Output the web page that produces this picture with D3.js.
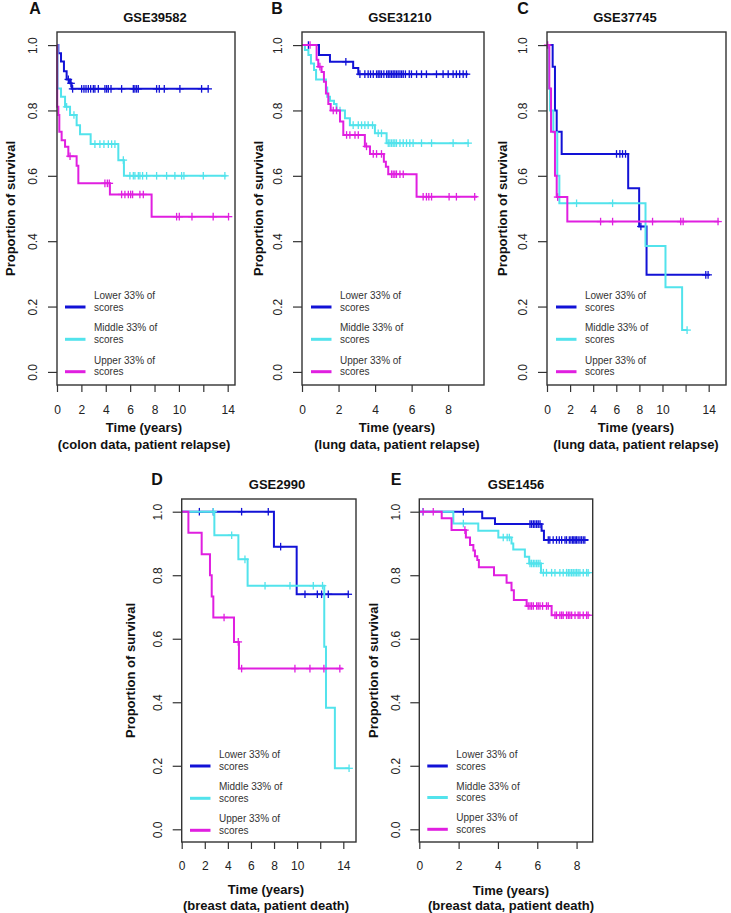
<!DOCTYPE html>
<html><head><meta charset="utf-8">
<script src="https://cdn.jsdelivr.net/npm/d3@7"></script>
<style>body{margin:0;background:#fff}svg{display:block}text{font-family:"Liberation Sans",Arial,Helvetica,sans-serif}</style>
</head><body><svg id="c" width="731" height="913"></svg>
<script>
// ---------------- DATA ----------------
const panelLetters = ["A","B","C","D","E"];
const panelTitles = ["GSE39582","GSE31210","GSE37745","GSE2990","GSE1456"];
const xTitle = "Time (years)";
const xSubtitles = ["(colon data, patient relapse)","(lung data, patient relapse)","(lung data, patient relapse)","(breast data, patient death)","(breast data, patient death)"];
const yTitle = "Proportion of survival";
const groupLine1 = ["Lower 33% of","Middle 33% of","Upper 33% of"];
const groupLine2 = ["scores","scores","scores"];
const groupColors = ["#1212d6","#52e3ec","#e01fe0"];
const yTicks = [0,0.2,0.4,0.6,0.8,1.0];
const xTicksA = [0,2,4,6,8,10,12,14], xLabelsA = ["0","2","4","6","8","10","","14"];
const xTicksB = [0,2,4,6,8], xLabelsB = ["0","2","4","6","8"];
const xTicksC = [0,2,4,6,8,10,12,14], xLabelsC = ["0","2","4","6","8","10","","14"];
const xTicksD = [0,2,4,6,8,10,12,14], xLabelsD = ["0","2","4","6","8","10","","14"];
const xTicksE = [0,2,4,6,8], xLabelsE = ["0","2","4","6","8"];

// step curves: [time of drop, new survival]; censor times; end time
const A_low  = [[0.11,0.975],[0.33,0.95],[0.57,0.92],[0.79,0.895],[1.07,0.883],[1.2,0.866]];
const A_lowC = [0.93,1.15,1.28,2.02,2.21,2.38,2.57,2.76,2.98,3.11,3.39,3.93,4.07,4.21,4.43,5.3,6.26,6.39,6.53,6.67,8.17,8.39,8.8,10.08,11.86,12.4];
const A_lowEnd = 12.4;
const A_mid  = [[0.05,0.867],[0.33,0.842],[0.66,0.811],[1.07,0.786],[1.61,0.755],[1.89,0.727],[2.76,0.697],[5.03,0.648],[5.49,0.600]];
const A_midC = [0.79,1.39,3.11,3.52,3.85,4.21,4.48,4.75,5.44,5.98,6.26,6.39,6.67,6.8,7.02,7.35,8.17,8.99,9.67,10.22,10.41,12.0,13.77];
const A_midEnd = 13.9;
const A_up   = [[0.02,0.811],[0.11,0.786],[0.19,0.735],[0.38,0.709],[0.66,0.689],[0.93,0.66],[1.61,0.631],[1.75,0.577],[4.34,0.543],[7.76,0.475]];
const A_upC  = [1.07,3.93,4.13,4.29,5.3,5.57,5.85,6.04,6.2,6.8,7.08,9.81,10.03,11.07,12.81,14.07];
const A_upEnd = 14.1;

const B_low  = [[0.93,0.97],[1.53,0.949],[2.8,0.93],[3.08,0.911]];
const B_lowC = [0.35,2.4,3.17,3.44,3.62,3.75,3.9,4.08,4.17,4.26,4.35,4.48,4.63,4.72,4.81,4.9,4.99,5.08,5.17,5.26,5.36,5.45,5.54,5.66,5.87,5.99,6.27,6.54,6.81,7.36,7.72,8.0,8.27,8.45,8.63,8.82,9.0];
const B_lowEnd = 9.09;
const B_mid  = [[0.16,0.985],[0.35,0.97],[0.49,0.944],[0.66,0.924],[0.77,0.895],[1.31,0.87],[1.38,0.842],[1.53,0.83],[1.75,0.82],[1.89,0.80],[2.35,0.776],[2.62,0.755],[3.99,0.73],[4.63,0.70]];
const B_midC = [2.08,2.8,3.08,3.26,3.44,3.62,3.86,4.17,4.35,4.72,4.81,4.9,4.99,5.08,5.17,5.36,5.54,5.72,5.9,6.08,6.54,7.09,8.27,9.09];
const B_midEnd = 9.14;
const B_up   = [[0.8,0.955],[0.89,0.934],[1.07,0.918],[1.2,0.888],[1.31,0.852],[1.44,0.82],[1.57,0.80],[2.08,0.766],[2.26,0.725],[3.44,0.69],[3.72,0.667],[4.48,0.643],[4.59,0.628],[4.72,0.605],[6.27,0.536]];
const B_upC  = [0.44,0.98,1.71,1.89,2.44,2.62,2.9,3.08,3.53,3.9,4.08,4.35,4.9,4.99,5.08,5.17,5.36,5.54,6.63,6.81,6.94,7.09,8.05,8.45,9.45];
const B_upEnd = 9.58;

const C_low  = [[0.49,0.934],[0.69,0.8],[0.84,0.735],[1.27,0.667],[7.03,0.562],[7.98,0.445],[8.62,0.297]];
const C_lowC = [6.02,6.31,6.54,6.8,8.13,13.75,13.95];
const C_lowEnd = 14.09;
const C_mid  = [[0.17,0.867],[0.26,0.8],[0.55,0.733],[0.89,0.6],[1.07,0.516],[8.53,0.385],[10.26,0.259],[11.7,0.128]];
const C_midC = [2.56,5.68,12.13];
const C_midEnd = 12.13;
const C_up   = [[0.2,0.867],[0.35,0.735],[0.69,0.6],[0.84,0.535],[1.76,0.46]];
const C_upC  = [0.06,0.92,4.64,5.68,9.14,11.58,11.79,14.81];
const C_upEnd = 14.9;

const D_low  = [[7.99,0.89],[9.96,0.74]];
const D_lowC = [1.53,2.74,5.19,7.5,8.57,10.68,11.75,12.12,12.7,14.43];
const D_lowEnd = 14.43;
const D_mid  = [[2.83,0.926],[4.91,0.85],[5.71,0.767],[12.35,0.575],[12.5,0.383],[13.27,0.192]];
const D_midC = [2.74,4.33,5.48,7.22,9.38,11.4,12.2,14.5];
const D_midEnd = 14.5;
const D_up   = [[0.58,0.934],[1.73,0.866],[2.45,0.8],[2.6,0.733],[2.74,0.667],[4.53,0.59],[4.96,0.506]];
const D_upC  = [3.67,4.9,5.19,9.81,11.11,12.32,13.7];
const D_upEnd = 13.94;

const E_low  = [[3.2,0.979],[3.85,0.961],[6.22,0.94],[6.34,0.911]];
const E_lowC = [2.24,5.63,5.71,5.8,5.88,5.97,6.05,6.14,6.56,6.64,6.81,6.98,7.12,7.24,7.41,7.49,7.63,7.71,7.8,7.86,7.93,8.0,8.08,8.17,8.25,8.34,8.42];
const E_lowEnd = 8.59;
const E_mid  = [[1.73,0.963],[3.0,0.94],[4.02,0.919],[4.69,0.9],[4.78,0.881],[5.37,0.858],[5.59,0.837],[6.19,0.808]];
const E_midC = [0.17,2.24,4.27,4.47,4.58,5.63,5.71,5.8,5.88,5.97,6.05,6.14,6.31,6.47,6.73,6.9,7.15,7.32,7.49,7.58,7.66,7.75,7.83,7.92,8.0,8.08,8.17,8.34,8.51,8.59];
const E_midEnd = 8.68;
const E_up   = [[1.14,0.979],[1.64,0.942],[2.37,0.919],[2.58,0.895],[2.75,0.878],[2.83,0.86],[2.95,0.848],[3.03,0.825],[3.8,0.80],[4.44,0.776],[4.69,0.753],[4.81,0.722],[5.46,0.703],[6.73,0.674]];
const E_upC  = [0.2,0.71,2.32,5.54,5.63,5.71,5.8,5.97,6.05,6.14,6.27,6.47,6.56,6.9,6.98,7.15,7.24,7.32,7.49,7.58,7.66,7.75,7.92,8.08,8.17,8.34,8.51,8.59];
const E_upEnd = 8.68;

// ---------------- LAYOUT ----------------
const layout = [
  {left:57, right:235, top:32, bottom:385, xmax:14.6, letterX:35, letterY:8, titleX:155, titleY:17, yLabX:10, tickPad:13, xtX:144, xt1:427, xt2:444, legX:65, legY:[307,339.3,371.7]},
  {left:302, right:484, top:32, bottom:385, xmax:9.96, letterX:277, letterY:8, titleX:400, titleY:17, yLabX:258, tickPad:13, xtX:397, xt1:427, xt2:444, legX:311, legY:[307,339.3,371.7]},
  {left:547, right:726, top:32, bottom:385, xmax:15.5, letterX:523, letterY:8, titleX:625, titleY:17, yLabX:502, tickPad:13, xtX:636, xt1:427, xt2:444, legX:556, legY:[307,339.3,371.7]},
  {left:181.7, right:356, top:499, bottom:842, xmax:15.1, letterX:157, letterY:479, titleX:277, titleY:484, yLabX:130, tickPad:12, xtX:266, xt1:889, xt2:905.5, legX:190, legY:[766,798.3,830.3]},
  {left:419.3, right:592.7, top:499, bottom:842, xmax:8.82, letterX:396, letterY:479, titleX:516, titleY:484, yLabX:373, tickPad:12, xtX:511, xt1:890, xt2:905.7, legX:427.3, legY:[766,797.5,829.3]}
];

const panelData = [
  {ticks:xTicksA, labels:xLabelsA, curves:[[A_low,A_lowC,A_lowEnd],[A_mid,A_midC,A_midEnd],[A_up,A_upC,A_upEnd]]},
  {ticks:xTicksB, labels:xLabelsB, curves:[[B_low,B_lowC,B_lowEnd],[B_mid,B_midC,B_midEnd],[B_up,B_upC,B_upEnd]]},
  {ticks:xTicksC, labels:xLabelsC, curves:[[C_low,C_lowC,C_lowEnd],[C_mid,C_midC,C_midEnd],[C_up,C_upC,C_upEnd]]},
  {ticks:xTicksD, labels:xLabelsD, curves:[[D_low,D_lowC,D_lowEnd],[D_mid,D_midC,D_midEnd],[D_up,D_upC,D_upEnd]]},
  {ticks:xTicksE, labels:xLabelsE, curves:[[E_low,E_lowC,E_lowEnd],[E_mid,E_midC,E_midEnd],[E_up,E_upC,E_upEnd]]}
];

const svg = d3.select("#c");
const axisCol = "#333";
const textCol = "#222";

panelData.forEach((pd, pi) => {
  const L = layout[pi];
  const g = svg.append("g");
  const x = d3.scaleLinear().domain([0, L.xmax]).range([L.left, L.right]);
  const y = d3.scaleLinear().domain([-0.04, 1.04]).range([L.bottom, L.top]);

  // curves
  pd.curves.forEach(([steps, cens, end], ci) => {
    const pts = [[0,1]]; let s = 1;
    steps.forEach(([t, ns]) => { pts.push([t, s]); pts.push([t, ns]); s = ns; });
    pts.push([end, s]);
    g.append("path").attr("d", d3.line().x(d => x(d[0])).y(d => y(d[1]))(pts))
      .attr("fill","none").attr("stroke", groupColors[ci]).attr("stroke-width", 2);
    const survAt = t => { let v = 1; steps.forEach(([tt, ns]) => { if (tt <= t) v = ns; }); return v; };
    const cg = g.append("g").attr("stroke", groupColors[ci]).attr("stroke-width", 1.3);
    cens.forEach(t => {
      const cx = x(t), cy = y(survAt(t));
      cg.append("line").attr("x1", cx).attr("x2", cx).attr("y1", cy - 3.8).attr("y2", cy + 3.8);
      cg.append("line").attr("x1", cx - 3.8).attr("x2", cx + 3.8).attr("y1", cy).attr("y2", cy);
    });
  });

  // box
  g.append("rect").attr("x", L.left).attr("y", L.top).attr("width", L.right - L.left).attr("height", L.bottom - L.top)
    .attr("fill","none").attr("stroke", axisCol).attr("stroke-width", 1.4);

  // x axis
  const xa = g.append("g").attr("transform", `translate(0,${L.bottom})`)
    .call(d3.axisBottom(x).tickValues(pd.ticks).tickSize(7).tickPadding(L.tickPad)
      .tickFormat((d, i) => pd.labels[i]));
  xa.select(".domain").remove();
  xa.selectAll("line").attr("stroke", axisCol).attr("stroke-width", 1.2);
  xa.selectAll("text").attr("font-size", 12).attr("fill", textCol)
    .attr("font-family", '"Liberation Sans",Arial,sans-serif');

  // y axis
  const ya = g.append("g").attr("transform", `translate(${L.left},0)`)
    .call(d3.axisLeft(y).tickValues(yTicks).tickSize(9).tickFormat(d3.format(".1f")));
  ya.select(".domain").remove();
  ya.selectAll("line").attr("stroke", axisCol).attr("stroke-width", 1.2);
  ya.selectAll("text").attr("font-size", 12).attr("fill", textCol)
    .attr("font-family", '"Liberation Sans",Arial,sans-serif')
    .attr("x", null).attr("dy", "0.35em").attr("text-anchor","middle")
    .attr("transform", "translate(-24,0) rotate(-90)");

  // titles
  g.append("text").attr("x", L.letterX).attr("y", L.letterY).attr("dy","0.35em").attr("text-anchor","middle")
    .attr("font-size", 16).attr("font-weight","bold").attr("fill","#111").text(panelLetters[pi]);
  g.append("text").attr("x", L.titleX).attr("y", L.titleY).attr("dy","0.35em").attr("text-anchor","middle")
    .attr("font-size", 13).attr("font-weight","bold").attr("fill","#111").text(panelTitles[pi]);
  g.append("text").attr("x", L.xtX).attr("y", L.xt1).attr("dy","0.35em").attr("text-anchor","middle")
    .attr("font-size", 13).attr("font-weight","bold").attr("fill","#111").text(xTitle);
  g.append("text").attr("x", L.xtX).attr("y", L.xt2).attr("dy","0.35em").attr("text-anchor","middle")
    .attr("font-size", 13).attr("font-weight","bold").attr("fill","#111").text(xSubtitles[pi]);
  g.append("text").attr("transform", `translate(${L.yLabX},${(L.top + L.bottom) / 2}) rotate(-90)`)
    .attr("dy","0.35em").attr("text-anchor","middle")
    .attr("font-size", 13).attr("font-weight","bold").attr("fill","#111").text(yTitle);

  // legend
  groupLine1.forEach((t, k) => {
    const ly = L.legY[k];
    g.append("line").attr("x1", L.legX).attr("x2", L.legX + 20.5).attr("y1", ly).attr("y2", ly)
      .attr("stroke", groupColors[k]).attr("stroke-width", 3);
    g.append("text").attr("x", L.legX + 29).attr("y", ly - 11.5).attr("dy","0.35em")
      .attr("font-size", 10).attr("fill","#333").text(t);
    g.append("text").attr("x", L.legX + 29).attr("y", ly).attr("dy","0.35em")
      .attr("font-size", 10).attr("fill","#333").text(groupLine2[k]);
  });
});
</script></body></html>
